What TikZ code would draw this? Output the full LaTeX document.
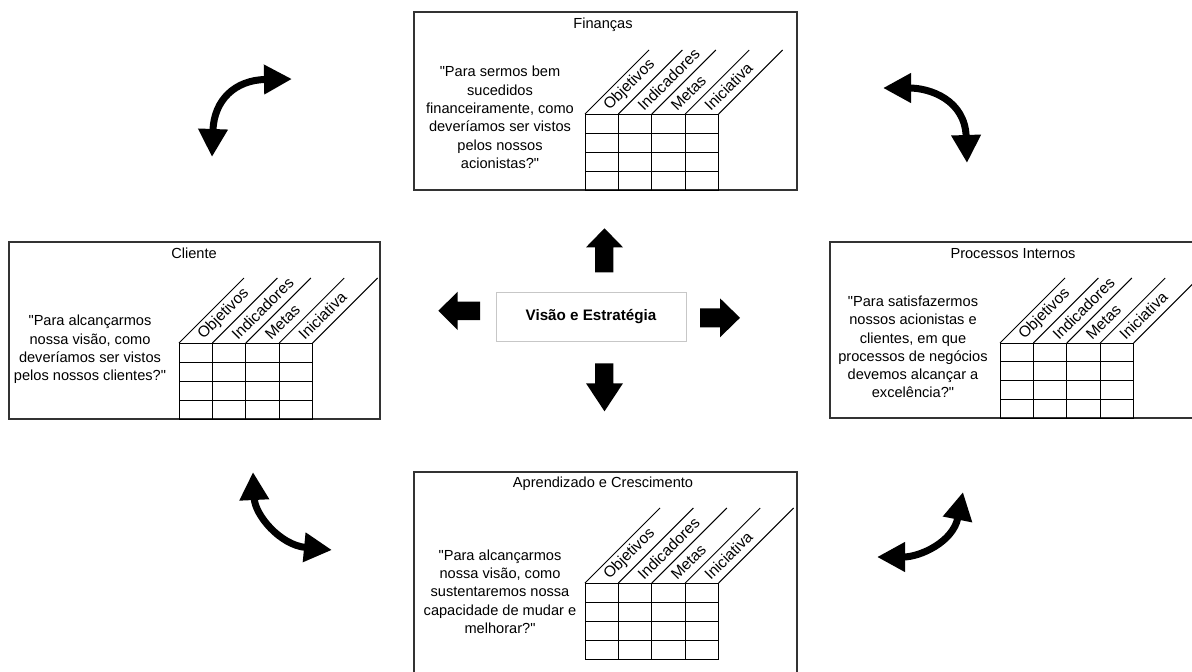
\documentclass[tikz,border=0pt]{standalone}
\usepackage{fontspec}
\setmainfont{Liberation Sans}[Ligatures=TeXOff]
\usetikzlibrary{arrows.meta}
\tikzset{
  panel/.style={draw=black!80, line width=1.2pt, inner sep=0pt},
  gridline/.style={line width=1pt, draw=black},
  collabel/.style={rotate=45, anchor=west, inner sep=0pt, font=\fontsize{15.5}{17}\selectfont},
  question/.style={align=center, inner sep=0pt, font=\fontsize{14.6}{18.3}\selectfont},
  paneltitle/.style={anchor=base, inner sep=0pt, font=\fontsize{14.6}{18}\selectfont},
  visionbox/.style={draw=black!22, line width=1pt, minimum width=190pt, minimum height=49pt, inner sep=0pt, font=\bfseries\fontsize{15.2}{18}\selectfont},
  blockarrow/.style={fill=black, draw=none},
  dbl/.style={line width=7pt, {Triangle[length=28pt,width=28pt]}-{Triangle[length=28pt,width=28pt]}}
}
\newcommand\bscgrid[4]{% #1 x0, #2 ytop, #3 diagonal length, #4 height of the grid
  \foreach \i in {0,...,4} {
    \draw[gridline] ({#1+\i*33.4},#2) -- ++(0,#4);
    \draw[gridline] ({#1+\i*33.4},#2) -- ++(#3,-#3);
  }
  \foreach \j in {0,...,4} {
    \draw[gridline] (#1,{#2+\j*#4/4}) -- ++(133.6,0);
  }
  \foreach \lab [count=\k from 0] in {Objetivos,Indicadores,Metas,Iniciativa} {
    \node[collabel] at ({#1+\k*33.4+16.7+5},{#2-6}) {\lab};
  }
}
\begin{document}
\begin{tikzpicture}[x=1pt,y=-1pt]
\useasboundingbox (0,0) rectangle (1192,672);
\fill[white] (0,0) rectangle (1192,672);
\clip (0,0) rectangle (1192,672);

% panels
\node[panel, minimum width=383pt, minimum height=178pt] (fin) at (605.5,101) {};
\node[panel, minimum width=371pt, minimum height=177pt] (cli) at (194.5,330.5) {};
\node[panel, minimum width=370pt, minimum height=176pt] (pro) at (1015,330) {};
\node[panel, minimum width=383pt, minimum height=208pt] (apr) at (605.5,576) {};

% titles
\node[paneltitle] (fint) at (603,28) {Finanças};
\node[paneltitle] (clit) at (194,258) {Cliente};
\node[paneltitle] (prot) at (1013,258) {Processos Internos};
\node[paneltitle] (aprt) at (603,487) {Aprendizado e Crescimento};

% questions
\node[question] (finq) at (500,117.5) {"Para sermos bem\\sucedidos\\financeiramente, como\\deveríamos ser vistos\\pelos nossos\\acionistas?"};
\node[question] (cliq) at (90,349.5) {"Para alcançarmos\\nossa visão, como\\deveríamos ser vistos\\pelos nossos clientes?"};
\node[question] (proq) at (913,347) {"Para satisfazermos\\nossos acionistas e\\clientes, em que\\processos de negócios\\devemos alcançar a\\excelência?"};
\node[question] (aprq) at (500,591.5) {"Para alcançarmos\\nossa visão, como\\sustentaremos nossa\\capacidade de mudar e\\melhorar?"};

% tables
\bscgrid{585}{114}{64}{76}
\bscgrid{179}{343}{65}{76}
\bscgrid{1000}{343}{65}{75}
\bscgrid{585}{583}{75}{76}

% centre
\node[visionbox] (vis) at (591,316.5) {Visão e Estratégia};

% block arrows
\fill[blockarrow] (595,272.3) -- (595,247.3) -- (586,247.3) -- (604.5,228.3) -- (623,247.3) -- (613.3,247.3) -- (613.3,272.3) -- cycle;
\fill[blockarrow] (595,363.3) -- (595,383.3) -- (586,383.3) -- (604.5,411.3) -- (623,383.3) -- (613.3,383.3) -- (613.3,363.3) -- cycle;
\fill[blockarrow] (480,301.7) -- (457.7,301.7) -- (457.7,291.7) -- (438.3,310.8) -- (457.7,330) -- (457.7,320) -- (480,320) -- cycle;
\fill[blockarrow] (700,308.3) -- (720,308.3) -- (720,298.3) -- (740,317.8) -- (720,337.3) -- (720,327.3) -- (700,327.3) -- cycle;

% curved double arrows
\coordinate (tlA) at (212,157); \coordinate (tlB) at (292,79);
\coordinate (trA) at (883,88);  \coordinate (trB) at (967,163);
\coordinate (blA) at (253,472); \coordinate (blB) at (332,550);
\coordinate (brA) at (877,557); \coordinate (brB) at (963,492);
\draw[dbl] (tlA) .. controls (214,100) and (235,80) .. (tlB);
\draw[dbl] (trA) .. controls (930,88) and (965,100) .. (trB);
\draw[dbl] (blA) .. controls (255,515) and (280,545) .. (blB);
\draw[dbl] (brA) .. controls (920,557) and (953,542) .. (brB);
\end{tikzpicture}
\end{document}
